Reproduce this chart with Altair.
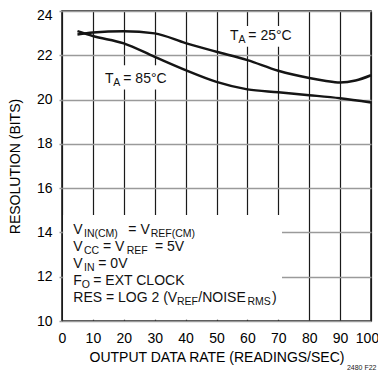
import altair as alt
import pandas as pd

# ---- data ----
rate_25 = [5, 10, 20, 30, 40, 50, 60, 70, 80, 85, 90, 95, 100]
res_25 = [22.94, 23.03, 23.09, 22.99, 22.55, 22.16, 21.78, 21.30, 20.97, 20.85, 20.77, 20.86, 21.10]
rate_85 = [5, 10, 20, 30, 40, 50, 60, 70, 80, 90, 100]
res_85 = [23.09, 22.87, 22.54, 21.93, 21.33, 20.80, 20.46, 20.33, 20.20, 20.06, 19.87]

x_ticks = [0, 10, 20, 30, 40, 50, 60, 70, 80, 90, 100]
y_ticks = [10, 12, 14, 16, 18, 20, 22, 24]

# annotation segments (main text) and subscripts, in data units
main_text = ["V", "= V", "V", "= V", "= 5V", "V", "= 0V", "F", "= EXT CLOCK",
             "RES = LOG 2 (V", "/NOISE", ")", "T", "= 25°C", "T", "= 85°C"]
main_x = [3.66, 21.46, 3.66, 13.27, 30.1, 3.66, 11.75, 3.66, 10.13,
          3.66, 44.1, 67.96, 54.4, 60.3, 13.9, 19.83]
main_y = [13.93, 13.93, 13.16, 13.16, 13.16, 12.39, 12.39, 11.63, 11.63,
          10.86, 10.86, 10.86, 22.69, 22.69, 20.76, 20.76]

sub_text = ["IN(CM)", "REF(CM)", "CC", "REF", "IN", "O", "REF", "RMS", "A", "A"]
sub_x = [7.12, 28.7, 7.12, 20.94, 7.12, 6.38, 37.2, 60.0, 57.1, 16.6]
sub_y = [13.93, 13.93, 13.16, 13.16, 12.39, 11.63, 10.86, 10.86, 22.69, 20.76]

# white boxes hiding the grid behind the note block and the curve labels
box_x = [0.4, 53.7, 13.3]
box_x2 = [71.2, 75.1, 35.0]
box_y = [10.06, 22.38, 20.45]
box_y2 = [14.79, 23.32, 21.55]

code_text = ["2480 F22"]
code_x = [92.2]
code_y = [7.88]

# ---- tables ----
curves = pd.concat([
    pd.DataFrame({"x": rate_25, "y": res_25, "s": "25"}),
    pd.DataFrame({"x": rate_85, "y": res_85, "s": "85"}),
])
main_df = pd.DataFrame({"t": main_text, "x": main_x, "y": main_y})
sub_df = pd.DataFrame({"t": sub_text, "x": sub_x, "y": sub_y})
box_df = pd.DataFrame({"x": box_x, "x2": box_x2, "y": box_y, "y2": box_y2})
code_df = pd.DataFrame({"t": code_text, "x": code_x, "y": code_y})

xs = alt.Scale(domain=[0, 100], nice=False, zero=False)
ys = alt.Scale(domain=[10, 24], nice=False, zero=False)

x_axis = alt.Axis(values=x_ticks, grid=True, gridColor="#1a1a1a", gridWidth=1.2,
                  domain=False, ticks=False, tickSize=0, labelFlush=False,
                  labelFontSize=14, labelPadding=10, labelColor="black",
                  labelOffset={"condition": {"test": "datum.value == 100", "value": -4}, "value": 0},
                  title="OUTPUT DATA RATE (READINGS/SEC)", titleFontSize=14,
                  titleFontWeight="normal", titleColor="black", titlePadding=5)
y_axis = alt.Axis(values=y_ticks, grid=True, gridColor="#9a9a9a", gridWidth=1.5,
                  domain=False, ticks=True, tickSize=3, tickColor="#9a9a9a", tickWidth=1.5,
                  labelFontSize=14, labelPadding=7, labelColor="black",
                  labelOffset={"condition": {"test": "datum.value == 24", "value": 4}, "value": 0},
                  title="RESOLUTION (BITS)", titleFontSize=14,
                  titleFontWeight="normal", titleColor="black", titlePadding=14)

X = lambda: alt.X("x:Q", scale=xs, axis=x_axis)
Y = lambda: alt.Y("y:Q", scale=ys, axis=y_axis)

boxes = alt.Chart(box_df).mark_rect(color="white").encode(
    x=X(), x2="x2:Q", y=Y(), y2="y2:Q",
)

lines = alt.Chart(curves).mark_line(color="#151515", strokeWidth=2.5, interpolate="monotone").encode(
    x=X(), y=Y(), detail="s:N",
)

main_lbl = alt.Chart(main_df).mark_text(align="left", baseline="alphabetic", fontSize=14,
                                         color="#111").encode(
    x=X(), y=Y(), text="t:N",
)

sub_lbl = alt.Chart(sub_df).mark_text(align="left", baseline="alphabetic", fontSize=10.5,
                                       dy=3, color="#111").encode(
    x=X(), y=Y(), text="t:N",
)

code_lbl = alt.Chart(code_df).mark_text(align="left", baseline="middle", fontSize=7,
                                         color="#222").encode(
    x=X(), y=Y(), text="t:N",
)

chart = alt.layer(boxes, lines, main_lbl, sub_lbl, code_lbl).properties(
    width=309, height=310,
    autosize=alt.AutoSizeParams(type="none"),
    padding={"left": 54, "top": 3, "right": 7, "bottom": 50},
).configure(font="Liberation Sans").configure_view(stroke="#111", strokeWidth=1.5)

chart.save("out.html", embed_options={"renderer": "svg", "actions": False})
